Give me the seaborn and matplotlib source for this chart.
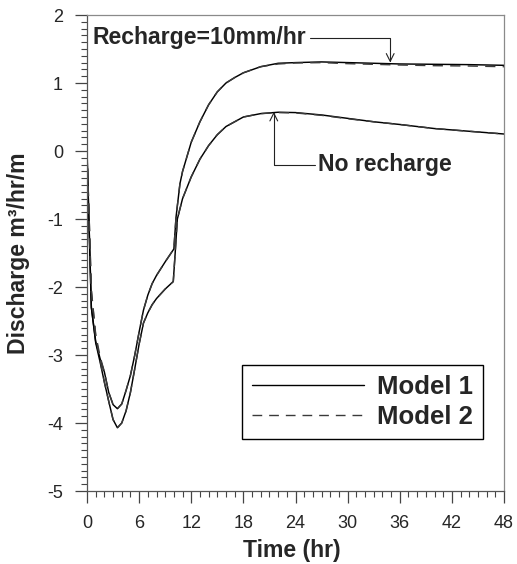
import numpy as np
import pandas as pd
import seaborn as sns
import matplotlib
matplotlib.use("Agg")
import matplotlib.pyplot as plt
from matplotlib.lines import Line2D
from matplotlib.ticker import MultipleLocator

# ---------------- data ----------------
t_rech = [0, 0.25, 0.5, 1, 1.5, 2, 2.5, 3, 3.5, 4,
          4.5, 5, 5.5, 6, 6.5, 7, 7.5, 8, 9, 10,
          10.25, 10.7, 11, 12, 13, 14, 15, 16, 17, 18,
          20, 22, 24, 27, 30, 33, 36, 40, 44, 48]
q_rech_m1 = [0, -1.15, -2.3, -2.8, -3.05, -3.25, -3.55, -3.73, -3.79, -3.72,
             -3.52, -3.3, -3.0, -2.66, -2.34, -2.12, -1.95, -1.83, -1.63, -1.44,
             -0.97, -0.48, -0.3, 0.13, 0.43, 0.68, 0.87, 1.0, 1.08, 1.15,
             1.24, 1.29, 1.30, 1.31, 1.30, 1.29, 1.28, 1.275, 1.27, 1.26]
q_rech_m2 = [0, -1.0, -2.05, -2.7, -3.02, -3.25, -3.55, -3.73, -3.79, -3.72,
             -3.52, -3.3, -3.0, -2.66, -2.34, -2.12, -1.95, -1.83, -1.63, -1.44,
             -0.97, -0.48, -0.3, 0.13, 0.43, 0.68, 0.87, 1.0, 1.08, 1.15,
             1.24, 1.28, 1.295, 1.30, 1.285, 1.275, 1.265, 1.255, 1.25, 1.24]

t_none = [0, 0.25, 0.5, 1, 1.5, 2, 2.5, 3, 3.5, 4,
          4.5, 5, 5.5, 6, 6.5, 7, 7.5, 8, 9, 9.93,
          10.15, 10.4, 11, 12, 13, 14, 15, 16, 18, 20,
          22, 24, 27, 30, 33, 36, 40, 44, 48]
q_none_m1 = [0, -1.15, -2.3, -2.82, -3.1, -3.4, -3.68, -3.95, -4.07, -4.0,
             -3.82, -3.55, -3.2, -2.84, -2.53, -2.38, -2.26, -2.17, -2.03, -1.92,
             -1.5, -1.0, -0.7, -0.38, -0.12, 0.08, 0.24, 0.36, 0.50, 0.55,
             0.57, 0.565, 0.53, 0.48, 0.43, 0.39, 0.33, 0.29, 0.25]
q_none_m2 = [0, -1.0, -2.05, -2.72, -3.07, -3.4, -3.68, -3.95, -4.07, -4.0,
             -3.82, -3.55, -3.2, -2.84, -2.53, -2.38, -2.26, -2.17, -2.03, -1.92,
             -1.5, -1.0, -0.7, -0.38, -0.12, 0.08, 0.24, 0.36, 0.50, 0.55,
             0.565, 0.56, 0.525, 0.475, 0.43, 0.39, 0.33, 0.29, 0.25]

models = ["Model 1", "Model 2"]
x_ticks = [0, 6, 12, 18, 24, 30, 36, 42, 48]
y_ticks = [-5, -4, -3, -2, -1, 0, 1, 2]

frames = []
for model, qr, qn in [("Model 1", q_rech_m1, q_none_m1), ("Model 2", q_rech_m2, q_none_m2)]:
    frames.append(pd.DataFrame({"Time": t_rech, "Q": qr, "Model": model,
                                "Scenario": "Recharge"}))
    frames.append(pd.DataFrame({"Time": t_none, "Q": qn, "Model": model,
                                "Scenario": "None"}))
df = pd.concat(frames, ignore_index=True)

# ---------------- style ----------------
sns.set_style("ticks")
plt.rcParams["font.family"] = ["Liberation Sans", "DejaVu Sans"]

fig = plt.figure(figsize=(5.17, 5.64), dpi=100)
ax = fig.add_axes([87 / 517, 1 - 491 / 564, 417 / 517, 476 / 564])

palette = {"Model 1": "black", "Model 2": "#3a3a3a"}
dashes = {"Model 1": "", "Model 2": (7, 5)}
sns.lineplot(data=df, x="Time", y="Q", hue="Model", style="Model",
             units="Scenario", estimator=None, palette=palette,
             dashes=dashes, linewidth=1.05, legend=False, ax=ax)

ax.set_xlim(0, 48)
ax.set_ylim(-5, 2)
ax.set_xticks(x_ticks)
ax.set_yticks(y_ticks)
ax.set_xticklabels([str(v) for v in x_ticks])
ax.set_yticklabels([str(v) for v in y_ticks])
ax.xaxis.set_minor_locator(MultipleLocator(1))
ax.yaxis.set_minor_locator(MultipleLocator(0.1))
ax.tick_params(axis="both", which="major", direction="out", length=8.3,
               width=0.9, color="#444444", labelsize=13, pad=9)
ax.tick_params(axis="both", which="minor", direction="out", length=4.2,
               width=0.8, color="#444444")

for s in ["left", "bottom"]:
    ax.spines[s].set_color("#555555")
    ax.spines[s].set_linewidth(0.9)
for s in ["top", "right"]:
    ax.spines[s].set_color("#8a8a8a")
    ax.spines[s].set_linewidth(0.9)

ax.set_xlabel("Time (hr)", fontsize=16.6, fontweight="bold")
ax.set_ylabel("Discharge m³/hr/m", fontsize=16.6, fontweight="bold")
ax.xaxis.set_label_coords(0.49, -0.101)
ax.yaxis.set_label_coords(-0.137, 0.5)

# annotations
arrow_kw = dict(arrowstyle="->", color="#222222", lw=0.8,
                connectionstyle="angle,angleA=0,angleB=90,rad=0",
                shrinkA=0, shrinkB=0, mutation_scale=14)
ax.annotate("Recharge=10mm/hr", xy=(34.9, 1.30), xytext=(0.65, 1.665),
            ha="left", va="center", fontsize=16.6, fontweight="bold",
            arrowprops=arrow_kw)
ax.annotate("No recharge", xy=(21.5, 0.575), xytext=(26.6, -0.20),
            ha="left", va="center", fontsize=16.6, fontweight="bold",
            arrowprops=arrow_kw)

# legend
handles = [Line2D([], [], color=palette[m], lw=1.0,
                  linestyle="-" if m == "Model 1" else (0, dashes[m]))
           for m in models]
leg = ax.legend(handles, models, loc="lower right",
                bbox_to_anchor=(0.950, 0.109), borderaxespad=0,
                prop={"size": 18.5, "weight": "bold"}, handlelength=4.36,
                handletextpad=0.5, borderpad=0.4, labelspacing=0.22,
                fancybox=False, framealpha=1, edgecolor="black")
leg.get_frame().set_linewidth(1.0)

fig.savefig("out.png", dpi=100)
